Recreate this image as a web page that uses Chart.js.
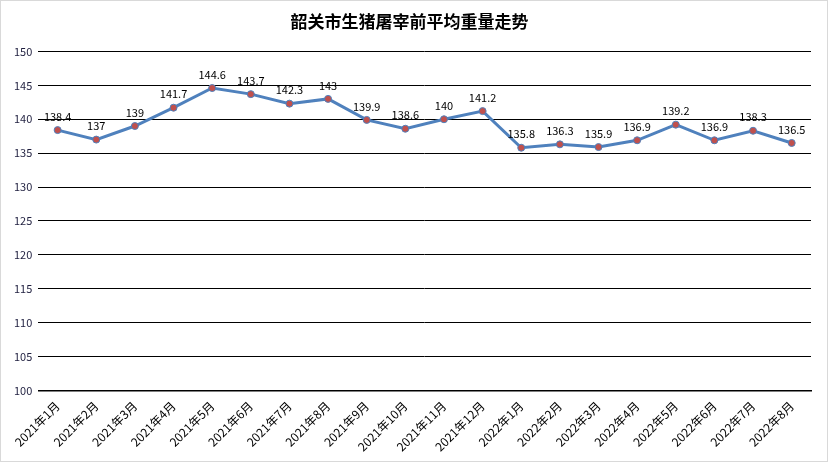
<!DOCTYPE html>
<html><head><meta charset="utf-8">
<script src="https://cdn.jsdelivr.net/npm/chart.js@4"></script>
<style>
html,body{margin:0;padding:0;background:#fff;}
#wrap{position:absolute;left:0;top:0;width:826px;height:460px;border:1px solid #d9d9d9;}
</style></head>
<body><div id="wrap"><canvas id="c"></canvas></div>
<script>
const CHART_TITLE = "韶关市生猪屠宰前平均重量走势";
const MONTHS = ["2021年1月","2021年2月","2021年3月","2021年4月","2021年5月","2021年6月","2021年7月","2021年8月","2021年9月","2021年10月","2021年11月","2021年12月","2022年1月","2022年2月","2022年3月","2022年4月","2022年5月","2022年6月","2022年7月","2022年8月"];
const WEIGHTS = [138.4,137,139,141.7,144.6,143.7,142.3,143,139.9,138.6,140,141.2,135.8,136.3,135.9,136.9,139.2,136.9,138.3,136.5];
const Y_MIN = 100, Y_MAX = 150, Y_STEP = 5;

const FONT = "'Microsoft YaHei','Noto Sans CJK SC','DejaVu Sans',sans-serif";

const pointLabels = {
  id: "pointLabels",
  afterDatasetsDraw(chart) {
    const ctx = chart.ctx;
    const meta = chart.getDatasetMeta(0);
    ctx.save();
    ctx.font = "11px " + FONT;
    ctx.fillStyle = "#000";
    ctx.textAlign = "center";
    ctx.textBaseline = "bottom";
    meta.data.forEach((pt, i) => {
      ctx.fillText(String(WEIGHTS[i]), pt.x, pt.y - 8);
    });
    ctx.restore();
  }
};

new Chart(document.getElementById("c"), {
  type: "line",
  data: {
    labels: MONTHS,
    datasets: [{
      data: WEIGHTS,
      borderColor: "#4f81bd",
      borderWidth: 3,
      pointRadius: 3.5,
      pointBackgroundColor: "#c0504d",
      pointBorderColor: "#4f81bd",
      pointBorderWidth: 1,
      tension: 0,
    }]
  },
  options: {
    responsive: true,
    maintainAspectRatio: false,
    animation: false,
    layout: { padding: { left: 7, right: 16, top: 4, bottom: 4 } },
    plugins: {
      legend: { display: false },
      tooltip: { enabled: false },
      title: {
        display: true,
        text: CHART_TITLE,
        color: "#000",
        font: { family: FONT, size: 17, weight: "bold" },
        padding: { top: 6, bottom: 20 }
      }
    },
    scales: {
      x: {
        offset: true,
        grid: { display: false, drawOnChartArea: false, offset: true, tickLength: 5, color: "#000" },
        border: { color: "#000", width: 1.5 },
        ticks: {
          color: "#000",
          font: { family: FONT, size: 12 },
          maxRotation: 45, minRotation: 45, autoSkip: false
        }
      },
      y: {
        min: Y_MIN, max: Y_MAX,
        grid: { color: "#000", lineWidth: 1, drawTicks: false },
        border: { display: false },
        ticks: {
          stepSize: Y_STEP,
          color: "#1f1f3f",
          padding: 6,
          font: { family: FONT, size: 11 }
        }
      }
    }
  },
  plugins: [pointLabels]
});
</script></body></html>
